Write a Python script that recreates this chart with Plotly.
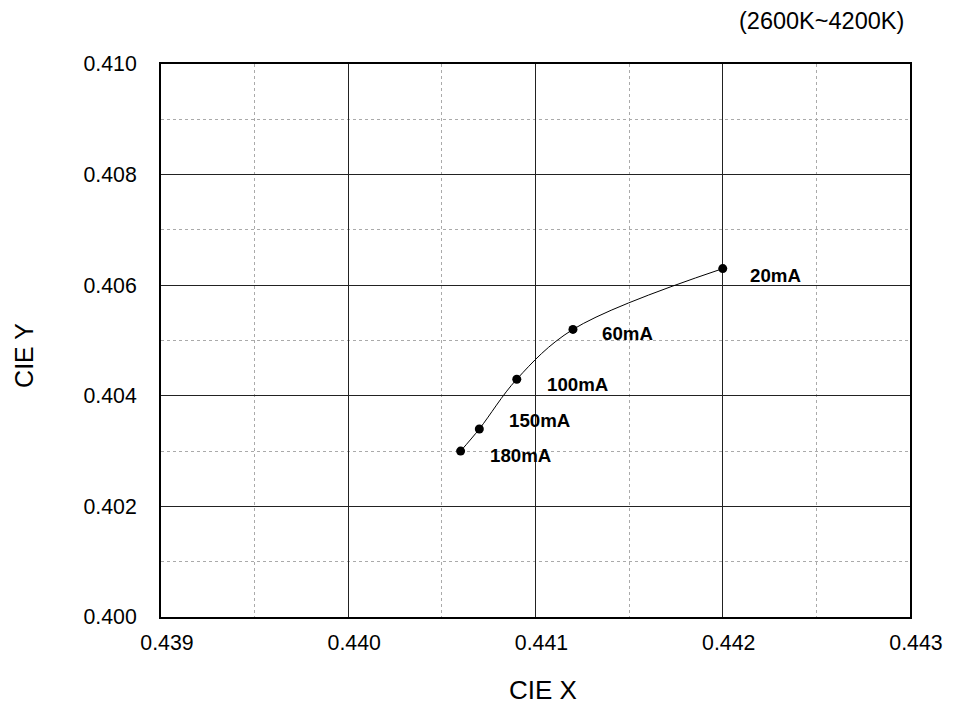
import plotly.graph_objects as go

cie_x = [0.4420, 0.4412, 0.4409, 0.4407, 0.4406]
cie_y = [0.4063, 0.4052, 0.4043, 0.4034, 0.4030]
labels = ["20mA", "60mA", "100mA", "150mA", "180mA"]
label_dx = [25, 27, 28, 28, 27]
label_dy = [-7, -4, -5, 8, -4]

x_ticks = [0.439, 0.440, 0.441, 0.442, 0.443]
y_ticks = [0.400, 0.402, 0.404, 0.406, 0.408, 0.410]

FONT = "Liberation Sans, Arial, sans-serif"

# figure (page has 8px body margin)
W, H = 947, 700
ML, MT, MR, MB = 153, 56, 40, 91
PW, PH = W - ML - MR, H - MT - MB


def px(sx):
    return (sx - 8 - ML) / PW


def py(sy):
    return 1 - (sy - 8 - MT) / PH


fig = go.Figure()
fig.add_trace(go.Scatter(
    x=cie_x, y=cie_y, mode="lines+markers",
    line=dict(color="black", width=1, shape="spline", smoothing=1.0),
    marker=dict(color="black", size=9),
    showlegend=False, hoverinfo="skip",
))

anns = []
for xv, yv, t, dx, dy in zip(cie_x, cie_y, labels, label_dx, label_dy):
    anns.append(dict(x=xv, y=yv, xref="x", yref="y", text=f"<b>{t}</b>",
                     showarrow=False, xanchor="left", yanchor="middle",
                     xshift=dx, yshift=dy,
                     font=dict(family=FONT, size=18.7, color="black")))

anns += [
    dict(text="CIE X", x=px(546), y=py(690), xref="paper", yref="paper",
         xanchor="center", yanchor="middle", showarrow=False,
         font=dict(family=FONT, size=26, color="black")),
    dict(text="CIE Y", x=px(23), y=py(355), xref="paper", yref="paper",
         xanchor="center", yanchor="middle", textangle=-90, showarrow=False,
         font=dict(family=FONT, size=25, color="black")),
    dict(text="(2600K~4200K)", x=px(911), y=py(21), xref="paper", yref="paper",
         showarrow=False, xanchor="right", yanchor="middle",
         font=dict(family=FONT, size=23.5, color="black")),
]

fig.update_layout(
    width=W, height=H,
    margin=dict(l=ML, r=MR, t=MT, b=MB),
    paper_bgcolor="white", plot_bgcolor="white",
    font=dict(family=FONT, size=21.3, color="black"),
    annotations=anns,
)

fig.update_xaxes(
    range=[0.439, 0.443], tickvals=x_ticks, ticktext=[f"{v:.3f}" for v in x_ticks],
    showgrid=True, gridcolor="#222", gridwidth=1,
    minor=dict(dtick=0.0005, showgrid=True, gridcolor="#aaa", griddash="dot", gridwidth=1),
    showline=True, linecolor="black", linewidth=2, mirror=True,
    ticks="", ticklabelshift=6, ticklabelstandoff=5, zeroline=False,
)
fig.update_yaxes(
    range=[0.400, 0.410], tickvals=y_ticks, ticktext=[f"{v:.3f}" for v in y_ticks],
    showgrid=True, gridcolor="#222", gridwidth=1,
    minor=dict(dtick=0.001, showgrid=True, gridcolor="#aaa", griddash="dot", gridwidth=1),
    showline=True, linecolor="black", linewidth=2, mirror=True,
    ticks="", ticklabelstandoff=18, zeroline=False,
)

fig.write_html("out.html")
